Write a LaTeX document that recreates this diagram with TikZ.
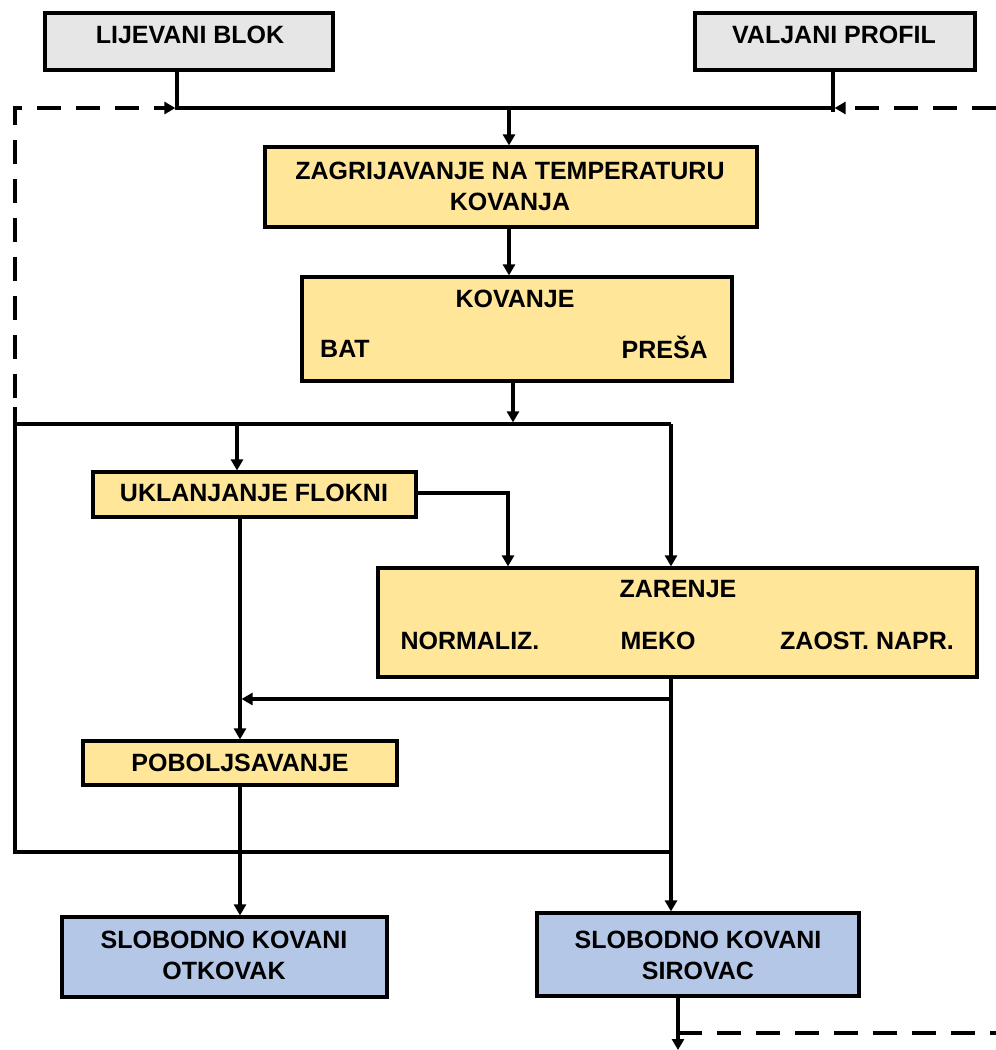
\documentclass[tikz,border=0pt]{standalone}
\usepackage{fontspec}
\setmainfont{Liberation Sans}
\usetikzlibrary{arrows.meta}
\definecolor{grayfill}{HTML}{E7E6E6}
\definecolor{yellowfill}{HTML}{FFE699}
\definecolor{bluefill}{HTML}{B4C7E7}
\tikzset{
  box/.style={draw=black, line width=3.2pt, inner sep=0pt},
  lbl/.style={font=\fontsize{25}{31}\selectfont\bfseries, inner sep=0pt, align=center, text=black},
  conn/.style={line width=3.2pt},
  tip/.style={-{Triangle[length=11pt,width=12pt]}},
  arr/.style={conn, tip},
  dashconn/.style={line width=3.2pt, dash pattern=on 24pt off 15pt},
}
\begin{document}
\begin{tikzpicture}[x=1pt,y=-1pt]
\useasboundingbox (0,0) rectangle (996,1050);
% boxes
\node[box, fill=grayfill, minimum width=288pt, minimum height=57pt] (lij) at (189,41.5) {};
\node[box, fill=grayfill, minimum width=280pt, minimum height=57pt] (val) at (835,41.5) {};
\node[box, fill=yellowfill, minimum width=492pt, minimum height=80pt] (zag) at (511,187) {};
\node[box, fill=yellowfill, minimum width=430pt, minimum height=104pt] (kov) at (517,329) {};
\node[box, fill=yellowfill, minimum width=323pt, minimum height=45pt] (ukl) at (254.5,494.5) {};
\node[box, fill=yellowfill, minimum width=599pt, minimum height=109pt] (zar) at (677.5,622.5) {};
\node[box, fill=yellowfill, minimum width=314pt, minimum height=44pt] (pob) at (240,763) {};
\node[box, fill=bluefill, minimum width=325pt, minimum height=80pt] (otk) at (224.5,957) {};
\node[box, fill=bluefill, minimum width=322pt, minimum height=83pt] (sir) at (698,954.5) {};
% labels
\node[lbl] (tlij) at (190,35) {LIJEVANI BLOK};
\node[lbl] (tval) at (834,35) {VALJANI PROFIL};
\node[lbl] (tzag) at (510,186.5) {ZAGRIJAVANJE NA TEMPERATURU\\KOVANJA};
\node[lbl] (tkov) at (515,299) {KOVANJE};
\node[lbl, anchor=west] (tbat) at (320,349) {BAT};
\node[lbl, anchor=base east] (tpre) at (708,358) {PREŠA};
\node[lbl] (tukl) at (254,493) {UKLANJANJE FLOKNI};
\node[lbl] (tzar) at (678,589) {ZARENJE};
\node[lbl] (tnor) at (470,641) {NORMALIZ.};
\node[lbl] (tmek) at (658,641) {MEKO};
\node[lbl] (tzao) at (867,641) {ZAOST. NAPR.};
\node[lbl] (tpob) at (240,763) {POBOLJSAVANJE};
\node[lbl] (totk) at (224,955) {SLOBODNO KOVANI\\OTKOVAK};
\node[lbl] (tsir) at (698,955) {SLOBODNO KOVANI\\SIROVAC};
% junction coordinates
\coordinate (j1) at (177,108);
\coordinate (j2) at (833,108);
\coordinate (j3) at (509,108);
\coordinate (dl) at (15,398);
\coordinate (dr) at (996,108);
\coordinate (h1) at (513,424);
\coordinate (bl) at (15,407);
\coordinate (bu1) at (15,424);
\coordinate (bu2) at (237,424);
\coordinate (bu3) at (671,424);
\coordinate (bb1) at (15,852);
\coordinate (bb2) at (671,852);
\coordinate (uk1) at (508,493);
\coordinate (v1) at (240,699);
\coordinate (v2) at (671,699);
\coordinate (s1) at (678,1033);
\coordinate (s2) at (996,1033);
\coordinate (send) at (678,1050);
% connectors
\draw[conn] (lij.south -| j1) -- (j1) -- (j2);
\draw[conn] (val.south -| j2) -- ([yshift=-4pt]j2);
\draw[arr] (j3) -- (zag.north -| j3);
\draw[arr] (zag.south -| j3) -- (kov.north -| j3);
\draw[arr, shorten >=1.6pt] (kov.south -| h1) -- (h1);
\draw[conn] (bu1) -- (bu3);
\draw[conn] (bl) -- (bb1) -- (bb2);
\draw[arr] (bu2) -- (ukl.north -| bu2);
\draw[arr] (bu3) -- (zar.north -| bu3);
\draw[arr] (ukl.east |- uk1) -- (uk1) -- (zar.north -| uk1);
\draw[arr] (ukl.south -| v1) -- (pob.north -| v1);
\draw[arr, shorten >=1.6pt] (v2) -- (v1);
\draw[arr] (zar.south -| v2) -- (sir.north -| v2);
\draw[arr] (pob.south -| v1) -- (otk.north -| v1);
\draw[arr] (sir.south -| s1) -- (send);
\draw[dashconn] (s1) -- (s2);
\draw[dashconn, tip, shorten >=1.6pt] (dl) |- (j1);
\draw[dashconn, tip, shorten >=1.6pt] (dr) -- (j2);
\end{tikzpicture}
\end{document}
